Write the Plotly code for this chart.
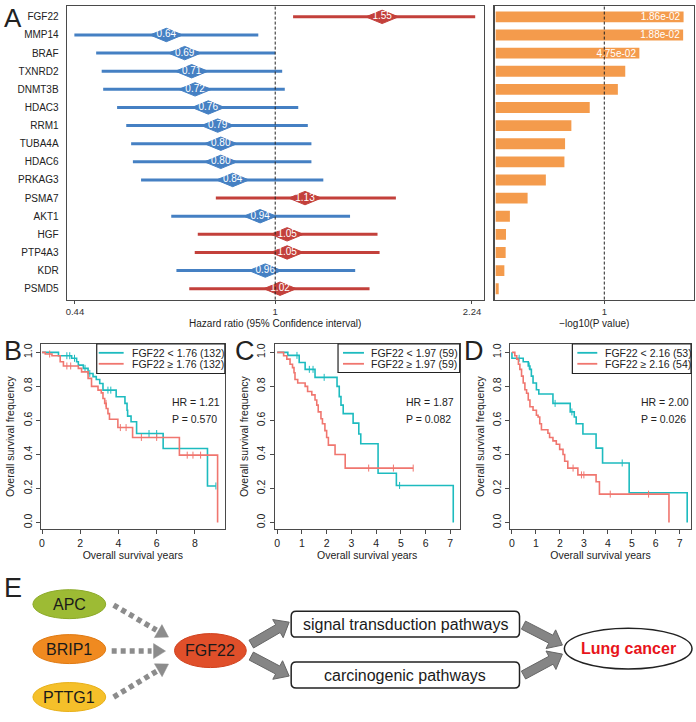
import math
import plotly.graph_objects as go

W, H = 696, 722
FONT = "Arial, Liberation Sans, Helvetica, sans-serif"

# ---------------- Panel A data ----------------
genes = ["FGF22", "MMP14", "BRAF", "TXNRD2", "DNMT3B", "HDAC3", "RRM1", "TUBA4A",
         "HDAC6", "PRKAG3", "PSMA7", "AKT1", "HGF", "PTP4A3", "KDR", "PSMD5"]
hazard_ratio = [1.55, 0.64, 0.69, 0.71, 0.72, 0.76, 0.79, 0.80,
                0.80, 0.84, 1.13, 0.94, 1.05, 1.05, 0.96, 1.02]
ci_low = [1.076, 0.439, 0.480, 0.491, 0.494, 0.523, 0.543, 0.554,
          0.558, 0.577, 0.784, 0.653, 0.728, 0.719, 0.667, 0.703]
ci_high = [2.27, 0.933, 1.00, 1.029, 1.040, 1.099, 1.143, 1.160,
           1.160, 1.218, 1.640, 1.359, 1.521, 1.534, 1.388, 1.472]
neg_log10_p = [1.730, 1.726, 1.323, 1.193, 1.125, 0.866, 0.697, 0.639,
               0.633, 0.462, 0.294, 0.131, 0.095, 0.092, 0.080, 0.028]
p_labels = ["1.86e-02", "1.88e-02", "4.75e-02"] + [""] * 13
forest_ticks = [0.44, 1, 2.24]

# ---------------- Panels B-D data (Kaplan-Meier) ----------------
B_low_t = [0.86, 1.55, 1.81, 1.9, 2.16, 2.41, 2.67, 2.84, 3.02, 3.19, 3.88, 4.34, 4.45, 4.48, 4.66, 4.95, 6.34, 8.66]
B_low_s = [0.98, 0.965, 0.945, 0.925, 0.906, 0.876, 0.857, 0.84, 0.817, 0.778, 0.739, 0.70, 0.66, 0.625, 0.592, 0.523, 0.435, 0.215]
B_low_end = 9.1
B_low_cens = [1.3, 1.45, 1.7, 2.25, 2.5, 3.45, 3.6, 5.6, 6.0, 7.2, 9.1]
B_high_t = [0.17, 0.52, 0.95, 1.12, 1.9, 2.07, 2.41, 2.59, 2.93, 3.1, 3.19, 3.28, 3.36, 3.45, 3.53, 3.97, 4.74, 7.19, 9.19]
B_high_s = [0.99, 0.98, 0.945, 0.92, 0.906, 0.885, 0.847, 0.80, 0.778, 0.762, 0.729, 0.70, 0.67, 0.64, 0.607, 0.558, 0.50, 0.396, 0.0]
B_high_end = 9.19
B_high_cens = [0.4, 1.3, 1.5, 3.35, 4.1, 4.4, 5.2, 6.0, 7.6, 7.9, 8.3]

C_low_t = [0.43, 0.89, 1.13, 1.53, 2.42, 2.51, 2.58, 2.67, 3.07, 3.3, 3.38, 4.08, 4.82, 7.12]
C_low_s = [0.982, 0.94, 0.90, 0.853, 0.80, 0.74, 0.69, 0.64, 0.584, 0.52, 0.463, 0.29, 0.218, 0.0]
C_low_end = 7.12
C_low_cens = [0.8, 1.3, 1.45, 1.9, 4.95]
C_high_t = [0.26, 0.39, 0.52, 0.62, 0.68, 0.72, 0.83, 1.13, 1.23, 1.40, 1.53, 1.60, 1.66, 1.77, 1.83, 1.93, 2.0, 2.07, 2.34, 2.75]
C_high_s = [0.98, 0.96, 0.93, 0.91, 0.88, 0.84, 0.82, 0.80, 0.77, 0.75, 0.72, 0.69, 0.65, 0.61, 0.58, 0.54, 0.50, 0.455, 0.40, 0.32]
C_high_end = 5.5
C_high_cens = [3.7, 4.7, 5.5]

D_low_t = [0.0, 0.47, 0.68, 0.75, 0.81, 0.88, 1.02, 1.12, 1.71, 2.43, 2.6, 2.68, 2.96, 3.51, 3.78, 4.89, 7.31]
D_low_s = [0.965, 0.945, 0.92, 0.90, 0.86, 0.82, 0.78, 0.755, 0.70, 0.65, 0.62, 0.58, 0.52, 0.437, 0.35, 0.175, 0.0]
D_low_end = 7.31
D_low_cens = [0.3, 0.72, 1.8, 2.5, 4.6]
D_high_t = [0.12, 0.2, 0.27, 0.33, 0.4, 0.47, 0.54, 0.61, 0.68, 0.75, 0.88, 1.02, 1.09, 1.16, 1.23, 1.5, 1.57,
            1.71, 1.85, 1.99, 2.13, 2.2, 2.33, 2.75, 3.51, 3.65, 6.55]
D_high_s = [0.98, 0.96, 0.93, 0.90, 0.86, 0.82, 0.78, 0.76, 0.72, 0.68, 0.66, 0.63, 0.62, 0.58, 0.545, 0.525, 0.50,
            0.48, 0.46, 0.43, 0.40, 0.36, 0.32, 0.28, 0.24, 0.167, 0.0]
D_high_end = 6.55
D_high_cens = [2.55, 2.9, 3.0, 4.1, 5.7]

km_labels = [["FGF22 < 1.76 (132)", "FGF22 \u2265 1.76 (132)"],
             ["FGF22 < 1.97 (59)", "FGF22 \u2265 1.97 (59)"],
             ["FGF22 < 2.16 (53)", "FGF22 \u2265 2.16 (54)"]]
km_hr = ["HR = 1.21", "HR = 1.87", "HR = 2.00"]
km_p = ["P = 0.570", "P = 0.082", "P = 0.026"]

# ---------------- colours ----------------
BLUE = "#4580C3"
RED = "#C3403B"
ORANGE = "#F49B4C"
TEAL = "#1DBBBF"
SALMON = "#F0766F"
AXC = "#4a4a4a"


def px(x):
    return x / W


def py(y):
    return 1 - y / H


fig = go.Figure()

# ---------------- Panel A: forest ----------------
idx = list(range(len(genes)))
for col, cond in ((BLUE, lambda v: v <= 1), (RED, lambda v: v > 1)):
    lx, ly, dx, dy, tx, ty, tt = [], [], [], [], [], [], []
    for i, g in enumerate(genes):
        if not cond(hazard_ratio[i]):
            continue
        lx += [ci_low[i], ci_high[i], None]
        ly += [i, i, None]
        h = hazard_ratio[i]
        dw = 10 ** 0.029
        dx += [h / dw, h, h * dw, h, h / dw, None]
        dy += [i, i - 0.37, i, i + 0.37, i, None]
        tx.append(h)
        ty.append(i)
        tt.append(f"{h:.2f}")
    fig.add_trace(go.Scatter(x=lx, y=ly, mode="lines", line=dict(color=col, width=3),
                             xaxis="x", yaxis="y", hoverinfo="skip"))
    fig.add_trace(go.Scatter(x=dx, y=dy, mode="lines", fill="toself", fillcolor=col,
                             line=dict(color=col, width=1), xaxis="x", yaxis="y", hoverinfo="skip"))
    fig.add_trace(go.Scatter(x=tx, y=ty, mode="text", text=tt,
                             textfont=dict(color="white", size=10, family=FONT),
                             xaxis="x", yaxis="y", hoverinfo="skip"))

# ---------------- Panel A: bars ----------------
fig.add_trace(go.Bar(x=neg_log10_p, y=idx, orientation="h", width=0.6,
                     marker=dict(color=ORANGE, line=dict(width=0)),
                     text=p_labels, textposition="inside", insidetextanchor="end",
                     textfont=dict(color="white", size=10, family=FONT),
                     xaxis="x2", yaxis="y2", hoverinfo="skip"))


# ---------------- Panels B-D ----------------
def step_at(t, times, surv):
    s = 1.0
    for ti, si in zip(times, surv):
        if ti <= t:
            s = si
    return s


km_sets = [
    (B_low_t, B_low_s, B_low_end, B_low_cens, B_high_t, B_high_s, B_high_end, B_high_cens),
    (C_low_t, C_low_s, C_low_end, C_low_cens, C_high_t, C_high_s, C_high_end, C_high_cens),
    (D_low_t, D_low_s, D_low_end, D_low_cens, D_high_t, D_high_s, D_high_end, D_high_cens),
]
for k, ds in enumerate(km_sets):
    xa, ya = f"x{k + 3}", f"y{k + 3}"
    for (t, s, end, cens), col in (((ds[0], ds[1], ds[2], ds[3]), TEAL), ((ds[4], ds[5], ds[6], ds[7]), SALMON)):
        xs = [0] + list(t)
        ys = [1.0] + list(s)
        if end > t[-1]:
            xs.append(end)
            ys.append(s[-1])
        fig.add_trace(go.Scatter(x=xs, y=ys, mode="lines", line=dict(color=col, width=1.6, shape="hv"),
                                 xaxis=xa, yaxis=ya, hoverinfo="skip"))
        fig.add_trace(go.Scatter(x=cens, y=[step_at(c, t, s) for c in cens], mode="markers",
                                 marker=dict(symbol="line-ns", size=5, line=dict(color=col, width=1)),
                                 xaxis=xa, yaxis=ya, hoverinfo="skip"))

# ---------------- axes ----------------
common_box = dict(showline=True, mirror=True, linecolor=AXC, linewidth=1.2, showgrid=False, zeroline=False)

layout = dict(
    width=W, height=H, margin=dict(l=0, r=0, t=0, b=0),
    paper_bgcolor="white", plot_bgcolor="white", showlegend=False,
    font=dict(family=FONT, size=10, color="#222"),
    uniformtext=dict(minsize=10, mode="show"),
    xaxis=dict(domain=[px(65), px(483)], type="log", range=[-0.371, 0.371],
               tickvals=forest_ticks, ticktext=["0.44", "1", "2.24"], ticks="outside", ticklen=3,
               tickcolor=AXC, tickfont=dict(family=FONT, size=9.5, color="#333"),
               title=dict(text="Hazard ratio (95% Confidence interval)", font=dict(family=FONT, size=10),
                          standoff=3),
               anchor="y", **common_box),
    yaxis=dict(domain=[py(299), py(5)], range=[15.6, -0.6], tickvals=idx, ticktext=genes,
               ticks="", tickfont=dict(family=FONT, size=10, color="#222"), ticklabelstandoff=5,
               anchor="x", **common_box),
    xaxis2=dict(domain=[px(494), px(694)], range=[-0.01, 1.826], tickvals=[1], ticks="outside", ticklen=3,
                tickcolor=AXC, tickfont=dict(family=FONT, size=9.5, color="#333"),
                title=dict(text="\u2212log10(P value)", font=dict(family=FONT, size=10), standoff=3),
                anchor="y2", **common_box),
    yaxis2=dict(domain=[py(299), py(5)], range=[15.6, -0.6], showticklabels=False, ticks="",
                anchor="x2", **common_box),
)

km_dom_x = [(39, 223.5), (273.5, 459), (509.5, 691)]
km_ranges = [[-0.06, 9.57], [-0.1, 7.38], [-0.08, 7.47]]
km_ticks = [[0, 2, 4, 6, 8], list(range(8)), list(range(8))]
for k in range(3):
    n = k + 3
    layout[f"xaxis{n}"] = dict(domain=[px(km_dom_x[k][0]), px(km_dom_x[k][1])], range=km_ranges[k],
                               tickvals=km_ticks[k], ticks="outside", ticklen=4, tickcolor=AXC,
                               tickfont=dict(family=FONT, size=10.5, color="#222"),
                               title=dict(text="Overall survival years", font=dict(family=FONT, size=10.5),
                                          standoff=3),
                               anchor=f"y{n}", **common_box)
    layout[f"yaxis{n}"] = dict(domain=[py(529), py(343.5)], range=[-0.0394, 1.0488],
                               tickvals=[0, 0.2, 0.4, 0.6, 0.8, 1.0], tickformat=".1f", tickangle=-90,
                               ticks="outside", ticklen=4, tickcolor=AXC,
                               tickfont=dict(family=FONT, size=10.5, color="#222"),
                               title=dict(text="Overall survival frequency", font=dict(family=FONT, size=10.5),
                                          standoff=4),
                               anchor=f"x{n}", **common_box)

shapes = []
annotations = []

# reference lines at 1
for xa in ("x", "x2"):
    shapes.append(dict(type="line", xref=xa, yref=("y domain" if xa == "x" else "y2 domain"),
                       x0=1, x1=1, y0=0, y1=1, line=dict(color="#222", width=1, dash="3px,2px")))

# KM manual legends
leg_geo = [  # box l, r, t, b, line x0, x1, text x
    (95, 223.5, 343.5, 373, 97, 122, 128),
    (337, 459, 343.5, 372, 342, 363, 368),
    (572, 691, 343.5, 373, 577, 597, 603),
]
for k, (bl, br, bt, bb, lx0, lx1, tx) in enumerate(leg_geo):
    shapes.append(dict(type="rect", xref="paper", yref="paper", x0=px(bl), x1=px(br), y0=py(bb), y1=py(bt),
                       line=dict(color="#222", width=1.2), fillcolor="white", layer="above"))
    for r, (col, yy) in enumerate(((TEAL, bt + 8.8), (SALMON, bt + 19.8))):
        shapes.append(dict(type="line", xref="paper", yref="paper", x0=px(lx0), x1=px(lx1), y0=py(yy), y1=py(yy),
                           line=dict(color=col, width=1.8), layer="above"))
        annotations.append(dict(xref="paper", yref="paper", x=px(tx), y=py(yy), text=km_labels[k][r],
                                showarrow=False, xanchor="left", yanchor="middle",
                                font=dict(family=FONT, size=10.5, color="#222")))

hr_x = [168, 403, 639]
for k in range(3):
    annotations.append(dict(xref="paper", yref="paper", x=px(hr_x[k]), y=py(402), text=km_hr[k], showarrow=False,
                            xanchor="left", yanchor="middle", font=dict(family=FONT, size=10.5, color="#222")))
    annotations.append(dict(xref="paper", yref="paper", x=px(hr_x[k]), y=py(419), text=km_p[k], showarrow=False,
                            xanchor="left", yanchor="middle", font=dict(family=FONT, size=10.5, color="#222")))

# Panel letters
annotations.append(dict(xref="paper", yref="paper", x=0, y=1, text="A", showarrow=False,
                        xanchor="left", yanchor="top", font=dict(family=FONT, size=26, color="#222")))
for letter, lx, ly in (("B", 0, 350), ("C", 232, 350), ("D", 461, 350), ("E", 0, 588)):
    annotations.append(dict(xref="paper", yref="paper", x=px(lx), y=py(ly), text=letter, showarrow=False,
                            xanchor="left", yanchor="middle", font=dict(family=FONT, size=27, color="#222")))


# ---------------- Panel E: diagram ----------------
def P(x, y):
    return f"{px(x):.5f},{py(y):.5f}"


def ellipse(cx, cy, rx, ry, fill, edge, width=1):
    shapes.append(dict(type="circle", xref="paper", yref="paper", x0=px(cx - rx), x1=px(cx + rx),
                       y0=py(cy + ry), y1=py(cy - ry), fillcolor=fill, line=dict(color=edge, width=width)))


def block_arrow(x0, y0, x1, y1, shaft=9, head=21, hl=13, fill="#858585", edge="#666666"):
    L = math.hypot(x1 - x0, y1 - y0)
    ux, uy = (x1 - x0) / L, (y1 - y0) / L
    nx, ny = -uy, ux
    bx, by = x1 - ux * hl, y1 - uy * hl
    pts = [(x0 + nx * shaft / 2, y0 + ny * shaft / 2), (bx + nx * shaft / 2, by + ny * shaft / 2),
           (bx + nx * head / 2, by + ny * head / 2), (x1, y1), (bx - nx * head / 2, by - ny * head / 2),
           (bx - nx * shaft / 2, by - ny * shaft / 2), (x0 - nx * shaft / 2, y0 - ny * shaft / 2)]
    shapes.append(dict(type="path", xref="paper", yref="paper",
                       path="M " + " L ".join(P(a, b) for a, b in pts) + " Z",
                       fillcolor=fill, line=dict(color=edge, width=1)))


def dotted_arrow(x0, y0, x1, y1, hl=12, head=15, col="#8c8c8c"):
    L = math.hypot(x1 - x0, y1 - y0)
    ux, uy = (x1 - x0) / L, (y1 - y0) / L
    nx, ny = -uy, ux
    bx, by = x1 - ux * hl, y1 - uy * hl
    shapes.append(dict(type="line", xref="paper", yref="paper", x0=px(x0), y0=py(y0), x1=px(bx - ux * 2),
                       y1=py(by - uy * 2), line=dict(color=col, width=5.5, dash="5px,4px")))
    pts = [(bx + nx * head / 2, by + ny * head / 2), (x1, y1), (bx - nx * head / 2, by - ny * head / 2)]
    shapes.append(dict(type="path", xref="paper", yref="paper",
                       path="M " + " L ".join(P(a, b) for a, b in pts) + " Z",
                       fillcolor=col, line=dict(color=col, width=0.5)))


def rrect(x0, y0, x1, y1, r=5):
    path = (f"M {P(x0 + r, y0)} L {P(x1 - r, y0)} Q {P(x1, y0)} {P(x1, y0 + r)} L {P(x1, y1 - r)} "
            f"Q {P(x1, y1)} {P(x1 - r, y1)} L {P(x0 + r, y1)} Q {P(x0, y1)} {P(x0, y1 - r)} "
            f"L {P(x0, y0 + r)} Q {P(x0, y0)} {P(x0 + r, y0)} Z")
    shapes.append(dict(type="path", xref="paper", yref="paper", path=path, fillcolor="white",
                       line=dict(color="#222", width=1.5)))


def label(x, y, text, size=16, color="#1a1a1a", bold=False):
    annotations.append(dict(xref="paper", yref="paper", x=px(x), y=py(y),
                            text=f"<b>{text}</b>" if bold else text, showarrow=False,
                            xanchor="center", yanchor="middle", font=dict(family=FONT, size=size, color=color)))


sources = [("APC", 604, "#9DBB34", "#8CAA28"), ("BRIP1", 649, "#F08A20", "#E07A12"),
           ("PTTG1", 697, "#F5C02A", "#E8B018")]
for name, cy, fill, edge in sources:
    ellipse(67.5, cy, 36.5, 14.5, fill, edge)
    label(67.5, cy, name)
ellipse(209, 650.5, 36, 17, "#E04F2A", "#D0401C")
label(209, 650.5, "FGF22")

dotted_arrow(112, 605, 167, 637)
dotted_arrow(110, 651, 164, 651)
dotted_arrow(112, 697, 167, 664)

block_arrow(250, 644, 288, 622)
block_arrow(250, 656, 288, 676)
rrect(290, 611, 519, 637)
rrect(290, 662, 519, 688)
label(404.5, 624, "signal transduction pathways")
label(404.5, 675, "carcinogenic pathways")
block_arrow(523, 625, 562, 645)
block_arrow(523, 675, 562, 654)
ellipse(628, 648.5, 64, 20.5, "white", "#222", 1.5)
label(628, 648.5, "Lung cancer", size=16, color="#E8141B", bold=True)

layout["shapes"] = shapes
layout["annotations"] = annotations
fig.update_layout(**layout)
fig.write_html("out.html", config={"displayModeBar": False, "staticPlot": True},
               post_script="document.body.style.margin='0';document.body.style.padding='0';"
                           "document.documentElement.style.overflow='hidden';")
